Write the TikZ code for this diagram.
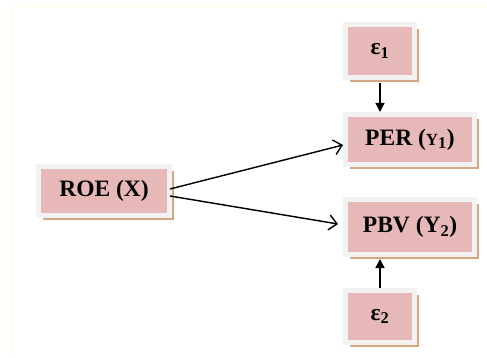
\documentclass[tikz,border=0pt]{standalone}
\usepackage{fontspec}
\setmainfont{Liberation Serif}
\usetikzlibrary{arrows.meta,shadows,calc}
\definecolor{boxpink}{RGB}{230,184,183}
\definecolor{boxframe}{RGB}{242,242,242}
\definecolor{boxshadow}{RGB}{212,167,128}
\definecolor{edgeyellow}{RGB}{255,255,215}
\begin{document}
\begin{tikzpicture}[x=1pt,y=-1pt,
  varbox/.style={fill=boxpink,draw=boxframe,line width=5pt,inner sep=0pt,
    drop shadow={shadow xshift=4.5pt,shadow yshift=-4.5pt,fill=boxshadow,opacity=1},
    font=\fontsize{23.5}{26}\selectfont\bfseries},
  pathline/.style={line width=1.4pt,-{Straight Barb[length=8pt,width=15pt,line width=1.4pt]}},
  errline/.style={line width=1.4pt,-{Triangle[length=9pt,width=9pt]}}]
\useasboundingbox (0,0) rectangle (487,358);
\fill[white] (0,0) rectangle (487,358);
\draw[edgeyellow,line width=1pt] (11,355) -- (11,7) -- (487,7);
\node[varbox,minimum width=131pt,minimum height=49pt] (roe) at (104,191) {ROE (X)};
\node[varbox,minimum width=69pt,minimum height=53pt] (e1) at (380,51) {ε\textsubscript{1}\hspace{18pt}};
\node[varbox,minimum width=129pt,minimum height=50pt] (per) at (410,139.5) {PER ({\fontsize{17}{17}\selectfont Y}\textsubscript{1})};
\node[varbox,minimum width=129pt,minimum height=55pt] (pbv) at (410,227) {PBV (Y\textsubscript{2})};
\node[varbox,minimum width=69pt,minimum height=52pt] (e2) at (380,316.5) {ε\textsubscript{2}\hspace{16pt}};
\draw[pathline] ($(roe.east)+(-2,-2)$) -- ($(per.west)+(0,5.5)$);
\draw[pathline] ($(roe.east)+(-2,5)$) -- ($(pbv.west)+(-5,-3)$);
\draw[errline] ($(e1.south)+(0,3)$) -- (e1.south |- per.north);
\draw[errline] (e2.north) -- ($(e2.north |- pbv.south)+(0,2)$);
\end{tikzpicture}
\end{document}
